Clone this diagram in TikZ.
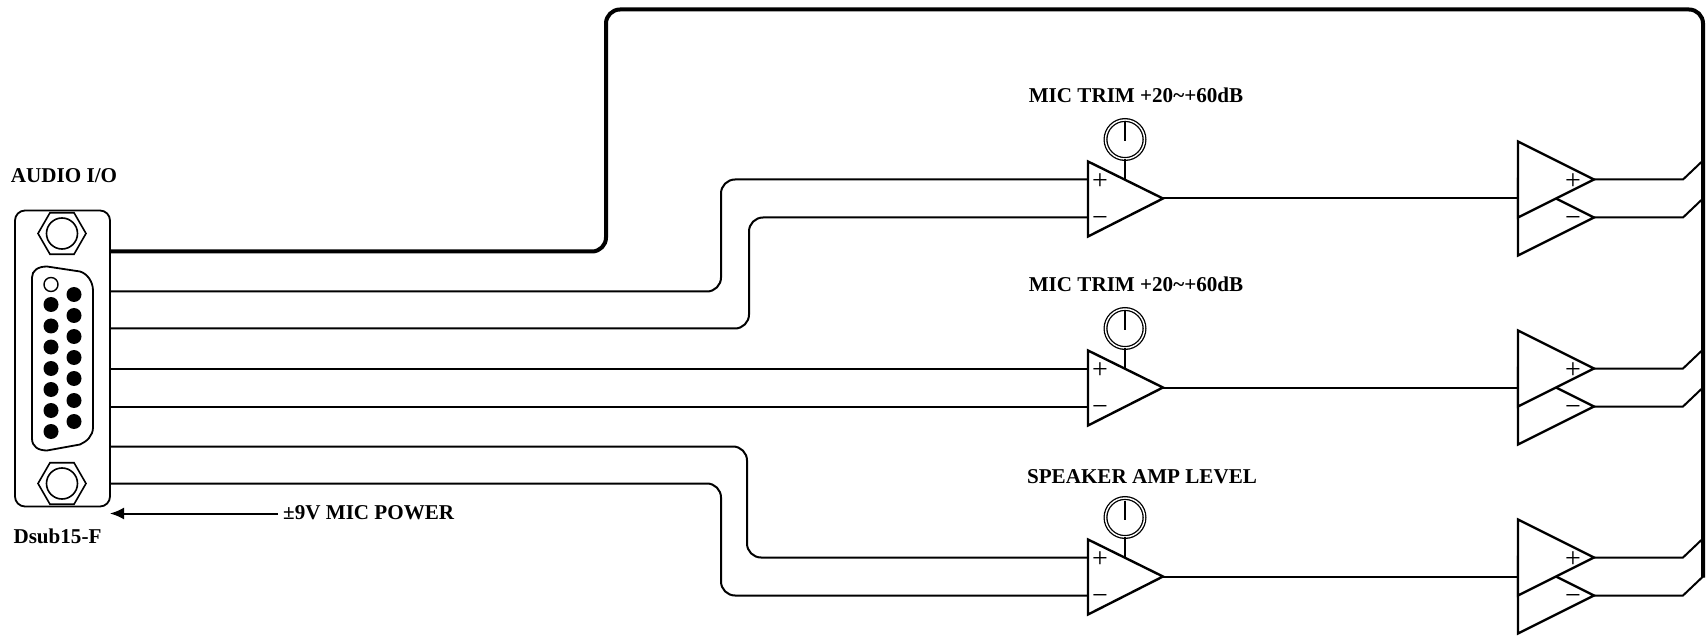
\documentclass[tikz,border=0pt]{standalone}
\usepackage{fontspec}
\setmainfont{Liberation Serif}
\usetikzlibrary{shapes.geometric, arrows.meta}
\begin{document}
\begin{tikzpicture}[x=1pt, y=-1pt]
    \tikzset{ wire/.style={line width=2pt},
            bus/.style={line width=4pt},
            amp/.style={line width=2.4pt, line join=miter, fill=white},
            lbl/.style={font=\fontsize{21.1}{24}\selectfont\bfseries, inner sep=0pt},
            sign/.style={font=\fontsize{28}{28}\selectfont, inner sep=0pt},
            hexnut/.style={regular polygon, regular polygon sides=6, draw, line width=1.6pt, minimum size=48pt, inner sep=0pt, outer sep=0pt},
            bolt/.style={circle, draw, line width=1.6pt, minimum size=31pt, inner sep=0pt, outer sep=0pt},
            pot/.style={circle, draw, line width=1.3pt, double, double distance=1.4pt, minimum size=39pt, inner sep=0pt, outer sep=0pt},
            pinhole/.style={circle, fill=black, minimum size=15pt, inner sep=0pt}}
    \useasboundingbox (0,-0.5) rectangle (1708,635.5);

    % Dsub connector
    \node[draw, line width=1.8pt, rounded corners=10pt, minimum width=95pt, minimum height=296pt, inner sep=0pt, outer sep=0pt] (dsub) at (62.5,358) {};
    \node[hexnut] (nuta) at (62,233) {};
    \node[bolt] (bolta) at (62,233) {};
    \node[hexnut] (nutb) at (62,483) {};
    \node[bolt] (boltb) at (62,483) {};
    \draw[line width=1.8pt] (32,277) .. controls (32,270) and (38,266) .. (47,266) -- (80,271)
        .. controls (87,273) and (93,281) .. (93,290) -- (93,427)
        .. controls (93,435) and (87,441) .. (80,444) -- (47,450)
        .. controls (38,450) and (32,446) .. (32,438) -- cycle;
    \node[circle, draw, line width=1.4pt, minimum size=14pt, inner sep=0pt] (pinfree) at (51,284) {};
    \foreach \y [count=\i] in {304,325.5,346.5,368,389,410,431}
        \node[pinhole] (pinl\i) at (51,\y) {};
    \foreach \y [count=\i] in {294,315,336,357,378,400,421}
        \node[pinhole] (pinr\i) at (74,\y) {};

    \node[lbl] (audio) at (64,175) {AUDIO I/O};
    \node[lbl] (dsubname) at (57.5,536) {Dsub15-F};
    \node[lbl, anchor=west] (power) at (283,512) {±9V MIC POWER};
    \coordinate (powerend) at (110,513);
    \draw[wire, -{Latex[length=14pt,width=12pt]}] (power.west |- powerend) ++(-5,0) -- (powerend);

    % Amplifiers
    \foreach \row/\dy in {a/0,b/189,c/378} {
        \draw[amp] (1088,161+\dy) -- (1163,198+\dy) coordinate (tip\row) -- (1088,236+\dy) -- cycle;
        \coordinate (ip\row) at (1088,179+\dy);
        \coordinate (im\row) at (1088,217+\dy);
        \node[sign] (plus\row) at (1100,181+\dy) {+};
        \node[sign] (minus\row) at (1100,221+\dy) {−};
        \node[pot] (pot\row) at (1125,139+\dy) {};
        \coordinate (stem\row) at (1125,179+\dy);
        \draw[wire] (pot\row.south) -- (stem\row);
        \draw[wire] ([yshift=17pt]pot\row.center) -- ([yshift=-2pt]pot\row.center);

        \draw[amp] (1518,179+\dy) -- (1594,217+\dy) coordinate (om\row) -- (1518,255+\dy) -- cycle;
        \draw[amp] (1518,141+\dy) -- (1594,179+\dy) coordinate (op\row) -- (1518,217+\dy) -- cycle;
        \coordinate (drv\row) at (1518,198+\dy);
        \node[sign] (dplus\row) at (1573,181+\dy) {+};
        \node[sign] (dminus\row) at (1573,221+\dy) {−};
        \coordinate (jp\row) at (1683,179+\dy);
        \coordinate (jm\row) at (1683,217+\dy);
        \coordinate (bp\row) at (1703,160+\dy);
        \coordinate (bm\row) at (1703,198+\dy);

        \draw[wire] (tip\row) -- (drv\row);
        \draw[wire] (op\row) -- (jp\row) -- (bp\row);
        \draw[wire] (om\row) -- (jm\row) -- (bm\row);
    }
    \node[lbl] (trima) at (1136,95) {MIC TRIM +20\textasciitilde+60dB};
    \node[lbl] (trimb) at (1136,284) {MIC TRIM +20\textasciitilde+60dB};
    \node[lbl] (level) at (1142,476) {SPEAKER AMP LEVEL};

    % Wires
    \coordinate (wa) at (110,291);
    \coordinate (wb) at (110,328);
    \coordinate (wc) at (110,368);
    \coordinate (wd) at (110,406);
    \coordinate (we) at (110,446);
    \coordinate (wf) at (110,483);
    \coordinate (wg) at (110,251);
    \coordinate (busend) at (1703,577);
    \draw[wire, rounded corners=14pt] (wa) -- (721,291) -- (721,179) -- (ipa);
    \draw[wire, rounded corners=14pt] (wb) -- (749,328) -- (749,217) -- (ima);
    \draw[wire] (wc) -- (ipb);
    \draw[wire] (wd) -- (imb);
    \draw[wire, rounded corners=14pt] (we) -- (747,446) -- (747,557) -- (ipc);
    \draw[wire, rounded corners=14pt] (wf) -- (721,483) -- (721,595) -- (imc);
    \draw[bus, rounded corners=14pt] (wg) -- (606,251) -- (606,9) -- (1703,9) -- (busend);
\end{tikzpicture}
\end{document}
